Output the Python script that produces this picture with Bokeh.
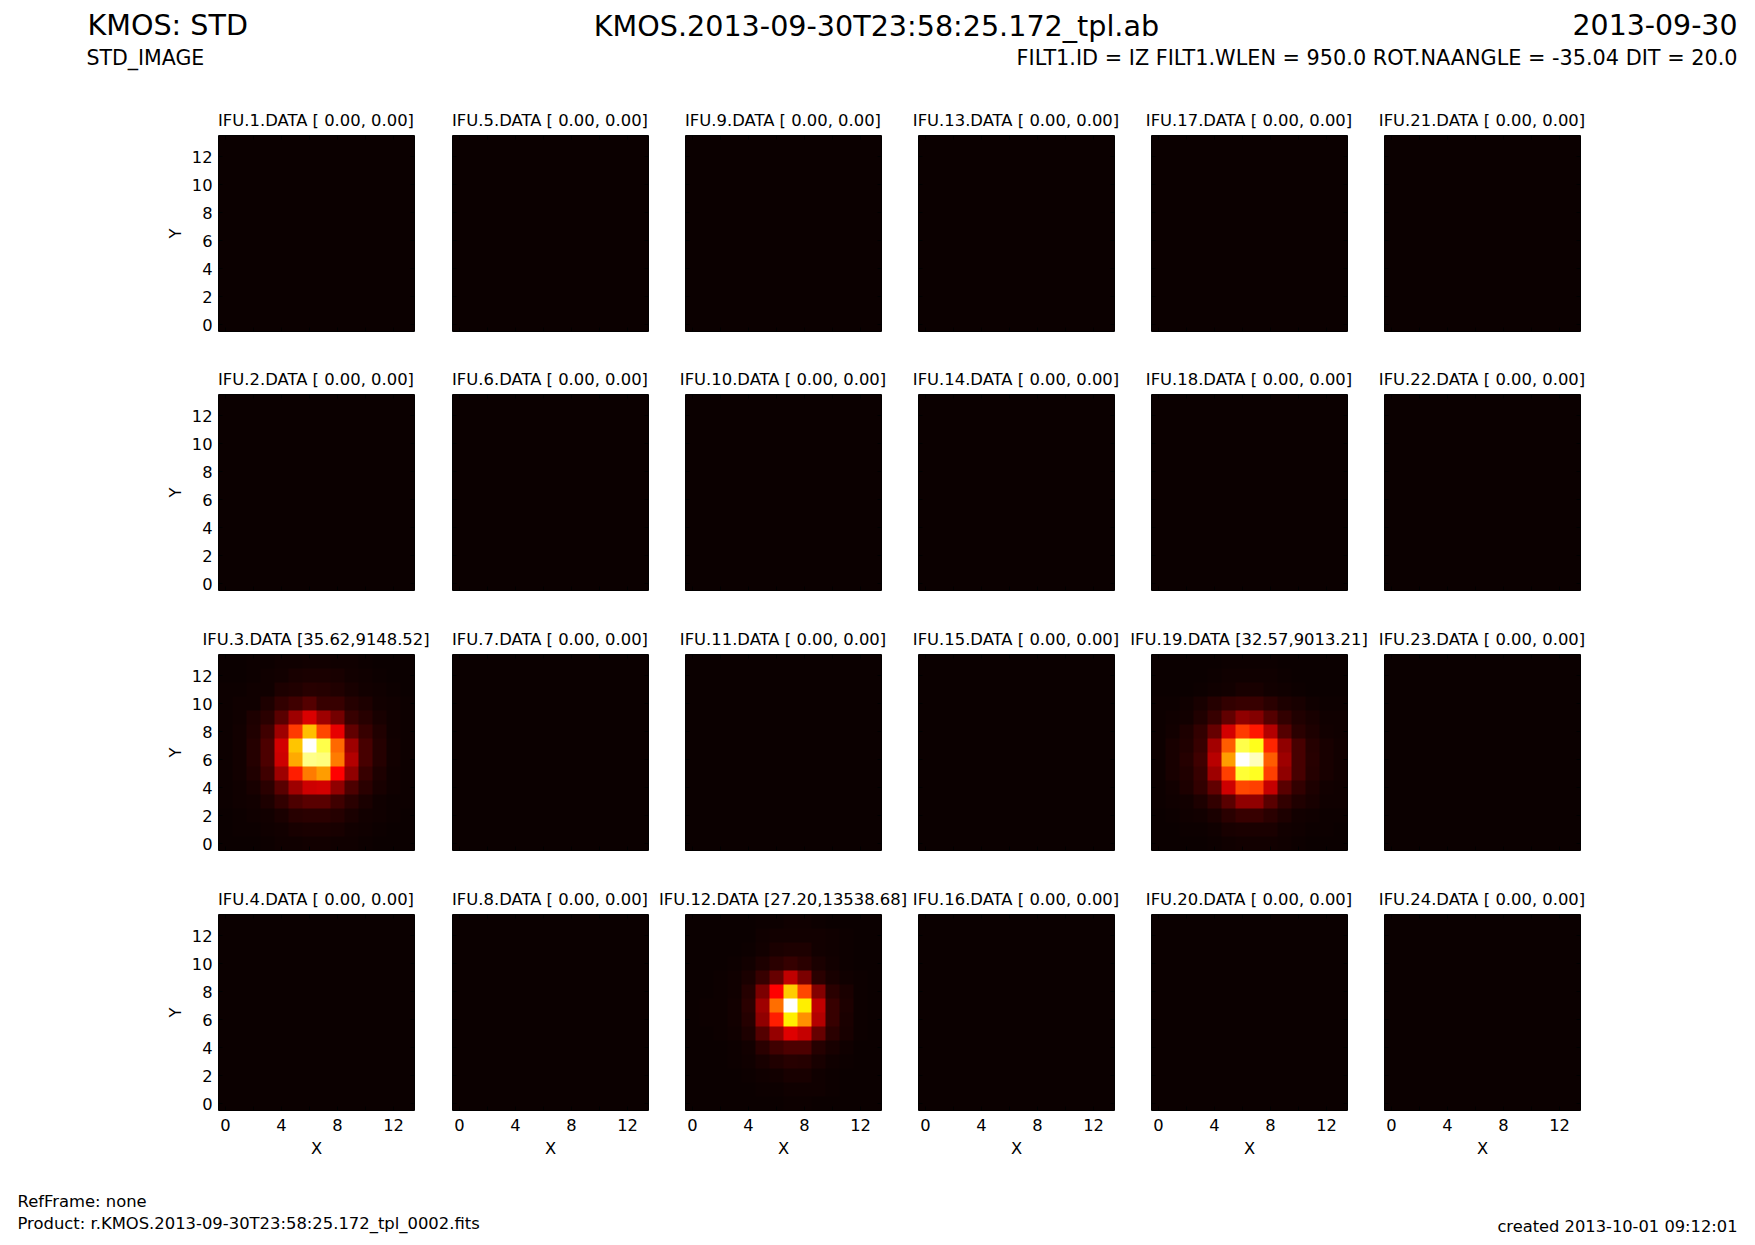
from bokeh.plotting import figure
from bokeh.layouts import column, row
from bokeh.models import Label, Range1d, LinearColorMapper, FixedTicker, LinearAxis
from bokeh.embed import file_html
from bokeh.resources import INLINE
import numpy as np

heading_left = "KMOS: STD"
heading_mid = "KMOS.2013-09-30T23:58:25.172_tpl.ab"
heading_right = "2013-09-30"
sub_left = "STD_IMAGE"
sub_right = "FILT1.ID = IZ FILT1.WLEN = 950.0 ROT.NAANGLE = -35.04 DIT = 20.0"
foot_1 = "RefFrame: none"
foot_2 = "Product: r.KMOS.2013-09-30T23:58:25.172_tpl_0002.fits"
foot_3 = "created 2013-10-01 09:12:01"

ranges = {i: "[ 0.00, 0.00]" for i in range(1, 25)}
ranges[3] = "[35.62,9148.52]"
ranges[12] = "[27.20,13538.68]"
ranges[19] = "[32.57,9013.21]"

tick_marks = [0, 2, 4, 6, 8, 10, 12]
x_tick_labels = [0, 4, 8, 12]
y_tick_labels = [0, 2, 4, 6, 8, 10, 12]

# normalised intensities, rows listed from the top (row 13) to the bottom (row 0)
ifu3 = [
    [.003, .003, .005, .005, .008, .01, .012, .012, .01, .008, .005, .003, .002, .002],
    [.003, .003, .005, .01, .015, .02, .025, .025, .02, .015, .01, .005, .003, .002],
    [.005, .005, .01, .01, .03, .035, .045, .04, .035, .02, .015, .01, .005, .002],
    [.005, .01, .01, .03, .06, .08, .11, .07, .07, .04, .03, .015, .01, .005],
    [.005, .01, .03, .05, .12, .22, .31, .22, .16, .07, .045, .02, .01, .005],
    [.005, .015, .035, .08, .22, .45, .65, .47, .33, .13, .07, .035, .01, .005],
    [.005, .015, .04, .10, .30, .66, 1.0, .82, .52, .22, .09, .04, .015, .005],
    [.005, .015, .04, .10, .29, .62, .88, .87, .55, .25, .09, .04, .015, .005],
    [.005, .015, .035, .08, .22, .41, .55, .60, .365, .20, .07, .03, .01, .005],
    [.005, .01, .02, .05, .12, .22, .29, .30, .20, .10, .05, .02, .01, .005],
    [.005, .01, .015, .03, .06, .10, .12, .12, .08, .05, .025, .01, .005, .005],
    [.002, .005, .01, .015, .025, .045, .05, .05, .04, .025, .015, .01, .005, .002],
    [.002, .005, .005, .01, .015, .02, .025, .025, .02, .015, .01, .005, .002, .002],
    [.002, .002, .002, .005, .01, .01, .015, .015, .01, .01, .005, .002, .002, .002],
]
ifu19 = [
    [.002, .002, .002, .002, .003, .005, .005, .005, .005, .003, .002, .002, .002, .002],
    [.002, .002, .002, .003, .005, .008, .01, .01, .008, .005, .003, .002, .002, .002],
    [.002, .002, .003, .005, .01, .015, .02, .02, .015, .01, .005, .003, .002, .002],
    [.005, .005, .01, .02, .04, .06, .07, .07, .05, .03, .02, .01, .005, .005],
    [.005, .01, .015, .035, .07, .13, .20, .18, .11, .06, .035, .02, .01, .01],
    [.005, .015, .03, .06, .14, .30, .45, .40, .25, .11, .05, .03, .015, .01],
    [.005, .02, .035, .07, .23, .50, .82, .77, .42, .20, .09, .04, .02, .015],
    [.005, .02, .04, .08, .26, .60, 1.0, .93, .50, .22, .09, .045, .02, .015],
    [.005, .02, .035, .07, .22, .46, .80, .78, .46, .20, .09, .04, .02, .015],
    [.005, .015, .03, .06, .13, .29, .47, .46, .28, .12, .06, .03, .015, .01],
    [.005, .01, .015, .03, .06, .12, .20, .20, .12, .06, .035, .02, .01, .01],
    [.002, .005, .01, .015, .025, .05, .07, .07, .05, .03, .015, .01, .005, .005],
    [.002, .002, .005, .005, .01, .02, .025, .025, .025, .015, .01, .005, .005, .002],
    [.002, .002, .002, .002, .005, .01, .015, .015, .015, .01, .005, .002, .002, .002],
]
ifu12 = [
    [.002, .002, .002, .002, .003, .005, .005, .008, .008, .005, .003, .002, .002, .002],
    [.002, .002, .002, .002, .003, .01, .012, .015, .015, .015, .01, .005, .002, .002],
    [.002, .002, .002, .002, .005, .015, .025, .03, .03, .015, .01, .005, .002, .002],
    [.002, .002, .002, .005, .015, .03, .05, .065, .05, .025, .015, .005, .002, .002],
    [.002, .002, .005, .01, .025, .07, .14, .27, .17, .05, .02, .01, .005, .002],
    [.002, .002, .005, .01, .04, .17, .365, .67, .47, .18, .05, .025, .005, .002],
    [.002, .005, .005, .015, .05, .22, .53, 1.0, .72, .27, .07, .03, .005, .002],
    [.002, .005, .005, .015, .04, .20, .41, .72, .58, .25, .07, .025, .005, .002],
    [.002, .002, .005, .01, .03, .11, .21, .32, .28, .14, .05, .02, .005, .002],
    [.002, .002, .002, .005, .015, .05, .08, .10, .10, .04, .02, .01, .002, .002],
    [.002, .002, .002, .005, .01, .02, .035, .045, .04, .02, .01, .005, .002, .002],
    [.002, .002, .002, .002, .005, .01, .015, .02, .02, .01, .005, .002, .002, .002],
    [.002, .002, .002, .002, .002, .005, .005, .01, .01, .01, .005, .002, .002, .002],
    [.002, .002, .002, .002, .002, .002, .003, .005, .005, .003, .002, .002, .002, .002],
]
empty = [[0.0] * 14 for _ in range(14)]
images = {3: ifu3, 12: ifu12, 19: ifu19}


def hot(v):
    r = min(1.0, 0.0416 + v / 0.365079 * 0.9584)
    g = min(1.0, max(0.0, (v - 0.365079) / (0.746032 - 0.365079)))
    b = min(1.0, max(0.0, (v - 0.746032) / (1 - 0.746032)))
    return "#%02x%02x%02x" % (round(r * 255), round(g * 255), round(b * 255))


palette = [hot(i / 255) for i in range(256)]
mapper = LinearColorMapper(palette=palette, low=0, high=1)

FONT = "DejaVu Sans"
COL_X = [218, 452, 685, 918, 1151, 1384]   # left frame edge of each column on the page
COL_START = [0, 452, 685, 918, 1151, 1384]
COL_END = [452, 685, 918, 1151, 1384, 1745]
FRAME_W = 196
FRAME_H = 196
ROW_H = [233, 234, 234, 254]
STRIP_H = [26, 26, 26, 26]
TOTAL_W = 1745
TOTAL_H = 1240
TEXT = "16.4px"


def blank(w, h):
    p = figure(width=w, height=h, x_axis_type=None, y_axis_type=None, toolbar_location=None,
               output_backend="svg", min_border=0, outline_line_color=None,
               x_range=Range1d(0, w), y_range=Range1d(0, h))
    p.grid.visible = False
    return p


def label(p, x, y, h, text, size, align="left"):
    p.add_layout(Label(x=x, y=h - y, x_units="screen", y_units="screen", text=text,
                       text_font=FONT, text_font_size=size, text_align=align,
                       text_baseline="middle", text_color="black"))


def axis(shown, name, standoff, lab_standoff):
    overrides = {t: "" for t in tick_marks if t not in shown}
    return LinearAxis(ticker=FixedTicker(ticks=tick_marks), axis_label=name,
                      major_label_overrides=overrides,
                      axis_label_text_font=FONT, axis_label_text_font_size="16.3px",
                      axis_label_text_font_style="normal", axis_label_standoff=standoff,
                      axis_label_text_color="black",
                      major_label_text_font=FONT, major_label_text_font_size="16.3px",
                      major_label_text_color="black",
                      major_label_standoff=lab_standoff, major_tick_in=4, major_tick_out=0,
                      major_tick_line_color="black",
                      minor_tick_line_color=None, axis_line_color=None)


def marks_only():
    return LinearAxis(ticker=FixedTicker(ticks=tick_marks), major_tick_in=4, major_tick_out=0,
                      major_label_overrides={t: "" for t in tick_marks},
                      major_label_text_font_size="0px", major_label_standoff=0,
                      major_tick_line_color="black", minor_tick_line_color=None, axis_line_color=None)


def panel(ifu, c, r):
    left = COL_X[c] - COL_START[c]
    width = COL_END[c] - COL_START[c]
    p = figure(width=width, height=ROW_H[r], toolbar_location=None, output_backend="svg",
               x_range=Range1d(-0.5, 13.5), y_range=Range1d(-0.5, 13.5),
               x_axis_type=None, y_axis_type=None,
               min_border_left=left, min_border_right=width - left - FRAME_W,
               min_border_top=0, min_border_bottom=ROW_H[r] - FRAME_H, outline_line_color="black")
    p.grid.visible = False
    p.image(image=[np.array(images.get(ifu, empty), dtype=float)[::-1]], x=-0.5, y=-0.5, dw=14, dh=14,
            color_mapper=mapper)
    if c == 0:
        ax = axis(y_tick_labels, "Y", 4, 6)
        ax.major_label_orientation = "horizontal"
        p.add_layout(ax, "left")
    else:
        p.add_layout(marks_only(), "left")
    if r == 3:
        p.add_layout(axis(x_tick_labels, "X", 5, 8), "below")
    else:
        p.add_layout(marks_only(), "below")
    p.add_layout(marks_only(), "above")
    p.add_layout(marks_only(), "right")
    return p


H0 = 109
header = blank(TOTAL_W, H0)
label(header, 87, 24, H0, heading_left, "28.6px")
label(header, 876, 25, H0, heading_mid, "28.6px", "center")
label(header, 1737, 24, H0, heading_right, "28.4px", "right")
label(header, 86, 57, H0, sub_left, "20.5px")
label(header, 1737, 57, H0, sub_right, "20.8px", "right")

children = [header]
for r in range(4):
    strip = blank(TOTAL_W, STRIP_H[r])
    for c in range(6):
        ifu = c * 4 + r + 1
        label(strip, COL_X[c] + FRAME_W / 2 - 0.5, 11, STRIP_H[r], f"IFU.{ifu}.DATA {ranges[ifu]}", TEXT, "center")
    children.append(strip)
    children.append(row([panel(c * 4 + r + 1, c, r) for c in range(6)], spacing=0))

H1 = TOTAL_H - H0 - sum(STRIP_H) - sum(ROW_H)
footer = blank(TOTAL_W, H1)
label(footer, 17, 33, H1, foot_1, TEXT)
label(footer, 17, 55, H1, foot_2, TEXT)
label(footer, 1737, 58, H1, foot_3, "16.3px", "right")
children.append(footer)

page = column(children, spacing=0)
open("out.html", "w").write(file_html(page, INLINE))
